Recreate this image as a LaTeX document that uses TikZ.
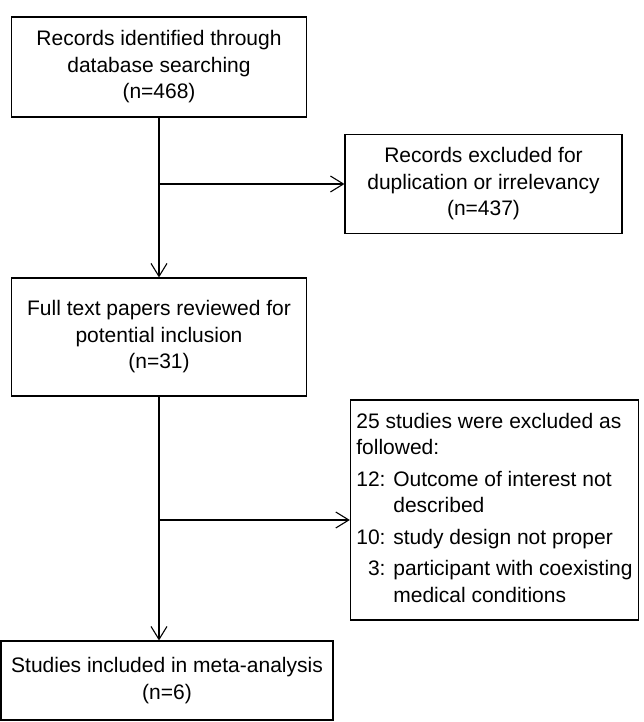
\documentclass[tikz,border=0pt]{standalone}
\usepackage{fontspec}
\setmainfont{Liberation Sans}
\usetikzlibrary{arrows.meta}
\begin{document}
\begin{tikzpicture}
			[
				x                 = 1pt,
				y                 = -1pt,
				box/.style        = {draw, line width=1.1pt, align=center, inner sep=6pt,
				                     font=\fontsize{21}{26.5}\selectfont},
				flow/.style       = {draw, line width=1.1pt,
				                     -{Straight Barb[length=13pt, width=16pt, line width=1.1pt]}}
			]
			\useasboundingbox (0,0) rectangle (643,722);
			% main column
			\node [box, minimum width=295pt, minimum height=100pt] (records) at (159,67)
				{Records identified through\\database searching\\(n=468)};
			\node [box, minimum width=295pt, minimum height=118pt] (fulltext) at (159,337)
				{Full text papers reviewed for\\potential inclusion\\(n=31)};
			\node [box, minimum width=332pt, minimum height=79pt] (included) at (167,680.5)
				{Studies included in meta-analysis\\(n=6)};
			% exclusions
			\node [box, minimum width=277pt, minimum height=99pt] (dupes) at (483.5,184)
				{Records excluded for\\duplication or irrelevancy\\(n=437)};
			\node [box, minimum height=220pt, inner xsep=6pt] (excluded) at (494.5,510)
				{\begin{tabular}{@{}r@{ }l@{}}
					\multicolumn{2}{@{}l@{}}{25 studies were excluded as}\\
					\multicolumn{2}{@{}l@{}}{followed:}\\[5pt]
					12: & Outcome of interest not\\
					    & described\\[5pt]
					10: & study design not proper\\[5pt]
					3:  & participant with coexisting\\
					    & medical conditions
				\end{tabular}};
			\coordinate (split1) at (records.south |- dupes.west);
			\coordinate (split2) at (159,520);
			\draw [flow] (records) -- (fulltext);
			\draw [flow] (split1) -- (dupes);
			\draw [flow] (fulltext) -- (fulltext |- included.north);
			\draw [flow] (split2) -- (split2 -| excluded.west);
\end{tikzpicture}
\end{document}
